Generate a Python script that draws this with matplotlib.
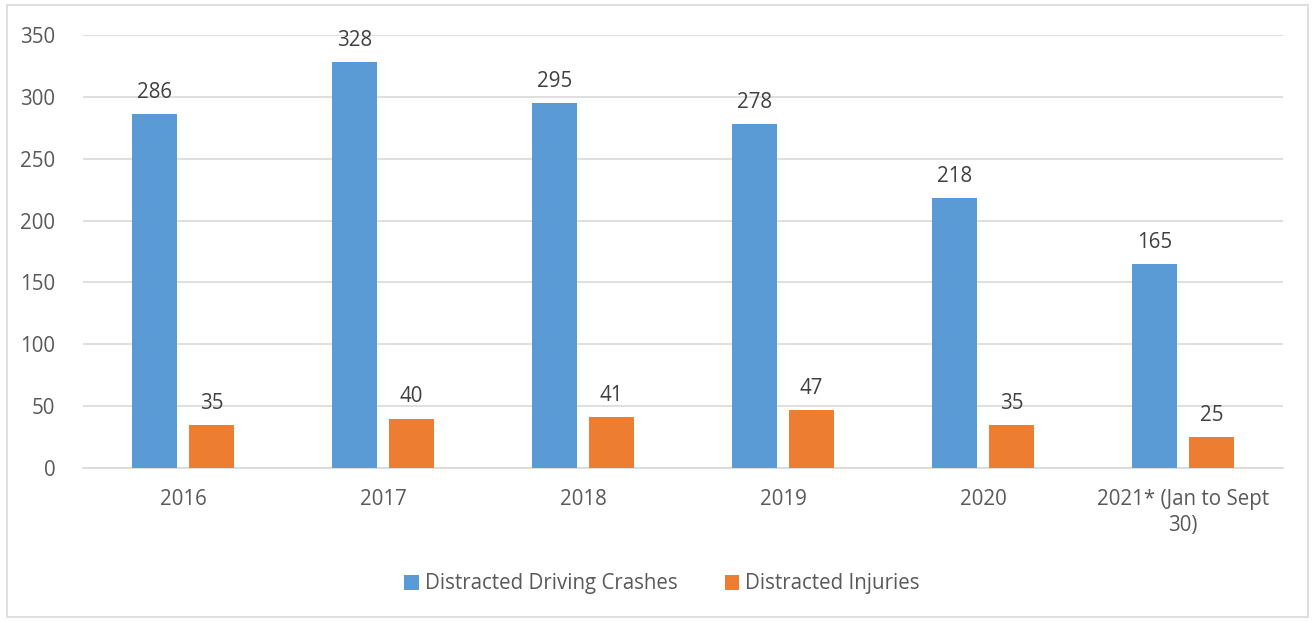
import matplotlib
matplotlib.use("Agg")
import matplotlib.pyplot as plt
import numpy as np
from matplotlib.patches import Rectangle

categories = ["2016", "2017", "2018", "2019", "2020", "2021* (Jan to Sept\n30)"]
crashes = [286, 328, 295, 278, 218, 165]
injuries = [35, 40, 41, 47, 35, 25]
series_names = ["Distracted Driving Crashes", "Distracted Injuries"]

plt.rcParams['font.family'] = ['Open Sans', 'DejaVu Sans']
TXT = "#595959"
FS = 14.8

fig = plt.figure(figsize=(13.14, 6.21), dpi=100)
ax = fig.add_axes([83/1314, 1-468/621, 1200/1314, 433/621])

x = np.arange(len(categories))
w = 0.225
off = 0.1425
b1 = ax.bar(x - off, crashes, w, color="#5B9BD5", label=series_names[0], zorder=3)
b2 = ax.bar(x + off, injuries, w, color="#ED7D31", label=series_names[1], zorder=3)

for bars, vals in ((b1, crashes), (b2, injuries)):
    for r, v in zip(bars, vals):
        ax.text(r.get_x() + r.get_width()/2, v + 9, str(v), ha="center", va="bottom",
                fontsize=FS, color="#404040")

ax.set_xlim(-0.5, len(categories) - 0.5)
ax.set_ylim(0, 350)
ax.set_yticks(range(0, 351, 50))
ax.yaxis.grid(True, color="#D9D9D9", linewidth=1.2, zorder=0)
ax.set_axisbelow(True)
for s in ["top", "right", "left"]:
    ax.spines[s].set_visible(False)
ax.spines["bottom"].set_color("#D9D9D9")
ax.spines["bottom"].set_linewidth(1.2)
ax.tick_params(axis="both", length=0, labelsize=FS, labelcolor=TXT)
ax.tick_params(axis="y", pad=20)
ax.tick_params(axis="x", pad=15)
ax.set_xticks(x)
ax.set_xticklabels(categories, linespacing=1.3)

leg = fig.legend(handles=[b1, b2], loc="center", bbox_to_anchor=(662/1314, 1-584/621),
                 ncol=2, frameon=False, fontsize=FS, handlelength=0.7, handleheight=0.7,
                 handletextpad=0.3, columnspacing=2.3)
for t in leg.get_texts():
    t.set_color(TXT)

fig.patches.append(Rectangle((7/1314, 4/621), 1301/1314, 612/621, transform=fig.transFigure,
                             fill=False, edgecolor="#D9D9D9", linewidth=1.2))

fig.savefig("out.png", dpi=100)
